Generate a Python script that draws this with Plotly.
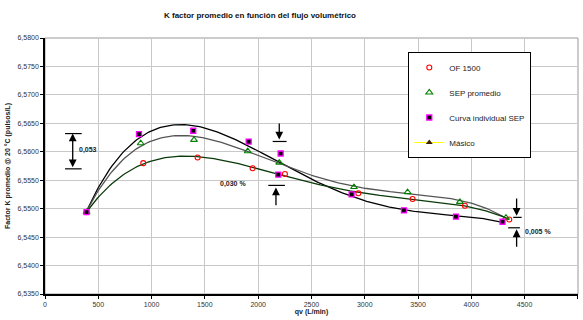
import numpy as np
import plotly.graph_objects as go

# ---- data ----
x_of = [390, 922, 1432, 1948, 2251, 2940, 3449, 3940, 4356]
y_of = [6.5494, 6.5580, 6.5590, 6.5571, 6.5561, 6.5527, 6.5517, 6.5505, 6.5481]

x_sep = [390, 898, 1398, 1902, 2198, 2899, 3402, 3893, 4325]
y_sep = [6.5494, 6.5615, 6.5621, 6.5601, 6.5581, 6.5538, 6.5529, 6.5512, 6.5484]

x_ind = [390, 882, 1391, 1911, 2211, 2189, 2877, 3368, 3856, 4293]
y_ind = [6.5494, 6.5631, 6.5637, 6.5618, 6.5597, 6.5560, 6.5525, 6.5497, 6.5486, 6.5477]

x_ticks = [0, 500, 1000, 1500, 2000, 2500, 3000, 3500, 4000, 4500, 5000]
y_ticks = [6.5350, 6.5400, 6.5450, 6.5500, 6.5550, 6.5600, 6.5650, 6.5700, 6.5750, 6.5800]

FONT = "Arial, Liberation Sans, sans-serif"


def trend(xs, ys, deg=4, n=200):
    c = np.polyfit(xs, ys, deg)
    xx = np.linspace(min(xs), max(xs), n)
    return xx, np.polyval(c, xx)


fig = go.Figure()

# trendlines
for xs, ys, col in [(x_ind, y_ind, "#000000"), (x_sep, y_sep, "#555555"), (x_of, y_of, "#0a3a0a")]:
    xx, yy = trend(xs, ys)
    fig.add_trace(go.Scatter(x=xx, y=yy, mode="lines", line=dict(color=col, width=1.3),
                             showlegend=False, hoverinfo="skip"))

fig.add_trace(go.Scatter(x=x_of, y=y_of, mode="markers", name="OF 1500", legendgroup="a",
                         marker=dict(symbol="circle-open", color="#ff0000", size=5, line=dict(width=1.1))))
fig.add_trace(go.Scatter(x=x_sep, y=y_sep, mode="markers", name="SEP promedio", legendgroup="b",
                         marker=dict(symbol="triangle-up-open", color="#008000", size=6, line=dict(width=1.1))))
fig.add_trace(go.Scatter(x=x_ind, y=y_ind, mode="markers", name="Curva individual SEP", legendgroup="c",
                         marker=dict(symbol="square", color="#000000", size=5,
                                     line=dict(color="#ff00ff", width=1.3))))
fig.add_trace(go.Scatter(x=[None], y=[None], mode="lines+markers", name="Másico", legendgroup="d",
                         line=dict(color="#ffff00", width=1.2),
                         marker=dict(symbol="triangle-up", color="#3a2000", size=6)))

# ---- annotation arrows (data coordinates) ----
ann = []
shapes = []


def arrow(x, y_tail, y_head, double=False):
    ann.append(dict(x=x, y=y_head, ax=x, ay=y_tail, xref="x", yref="y", axref="x", ayref="y",
                    text="", showarrow=True, arrowhead=2, arrowsize=1.2, arrowwidth=1.3,
                    arrowcolor="#000000", arrowside="end+start" if double else "end",
                    startarrowhead=2, startarrowsize=1.2))


def bar(x0, x1, y):
    shapes.append(dict(type="line", xref="x", yref="y", x0=x0, x1=x1, y0=y, y1=y,
                       line=dict(color="#000000", width=1.2)))


# 0,053 double arrow
arrow(260, 6.5570, 6.5632, double=True)
bar(188, 344, 6.5632)
bar(188, 344, 6.5570)
ann.append(dict(x=406, y=6.5604, xref="x", yref="y", text="<b>0,053</b>", showarrow=False,
                font=dict(family=FONT, size=7, color="#222222")))

# 0,030 %
arrow(2198, 6.56525, 6.56216)
bar(2136, 2267, 6.56181)
arrow(2167, 6.55033, 6.55374)
bar(2095, 2251, 6.55409)
ann.append(dict(x=1766, y=6.55426, xref="x", yref="y", text="<b>0,030 %</b>", showarrow=False,
                font=dict(family=FONT, size=7, color="#222222")))

# 0,005 %
arrow(4425, 6.55203, 6.54875)
bar(4393, 4472, 6.54847)
arrow(4425, 6.54303, 6.54636)
bar(4346, 4456, 6.54664)
ann.append(dict(x=4487, y=6.54584, xref="x", yref="y", text="<b>0,005 %</b>", showarrow=False,
                xanchor="left", font=dict(family=FONT, size=7, color="#222222")))

# grey border on top/right
shapes.append(dict(type="rect", xref="paper", yref="paper", x0=0, x1=1, y0=0, y1=1,
                   line=dict(color="#999999", width=1), layer="below"))

fig.update_layout(
    width=583, height=320,
    margin=dict(l=45, r=5, t=38, b=26, autoexpand=False),
    paper_bgcolor="white", plot_bgcolor="white",
    separators=",.",
    font=dict(family=FONT, size=7, color="#333333"),
    title=dict(text="<b>K factor promedio en función del flujo volumétrico</b>",
               x=260 / 583, xanchor="center", y=1 - 15 / 320, yanchor="middle",
               font=dict(family=FONT, size=8, color="#111111")),
    annotations=ann,
    shapes=shapes,
    legend=dict(x=0.6816, y=0.9454, xanchor="left", yanchor="top",
                bgcolor="white", bordercolor="#000000", borderwidth=1,
                font=dict(family=FONT, size=8, color="#222222"),
                tracegroupgap=6),
    showlegend=True,
)

fig.update_xaxes(range=[0, 5001], tickvals=x_ticks, tickformat="d", automargin=False,
                 showgrid=True, gridcolor="#c8c8c8", gridwidth=1,
                 showline=True, linecolor="#000000", linewidth=1.5, mirror=False,
                 ticks="outside", ticklen=3, tickcolor="#000000",
                 zeroline=False,
                 title=dict(text="<b>qv (L/min)</b>", font=dict(family=FONT, size=7, color="#222222"),
                            standoff=2))
fig.update_yaxes(range=[6.535, 6.58], tickvals=y_ticks, tickformat=".4f", automargin=False,
                 showgrid=True, gridcolor="#c8c8c8", gridwidth=1,
                 showline=True, linecolor="#000000", linewidth=1.5,
                 ticks="outside", ticklen=3, tickcolor="#000000",
                 zeroline=False,
                 title=dict(text="<b>Factor K promedio @ 20 °C (pulsos/L)</b>",
                            font=dict(family=FONT, size=7, color="#222222"), standoff=6))

fig.write_html("out.html", config={"displayModeBar": False},
               post_script="document.body.style.margin='0';document.body.style.overflow='hidden';")
